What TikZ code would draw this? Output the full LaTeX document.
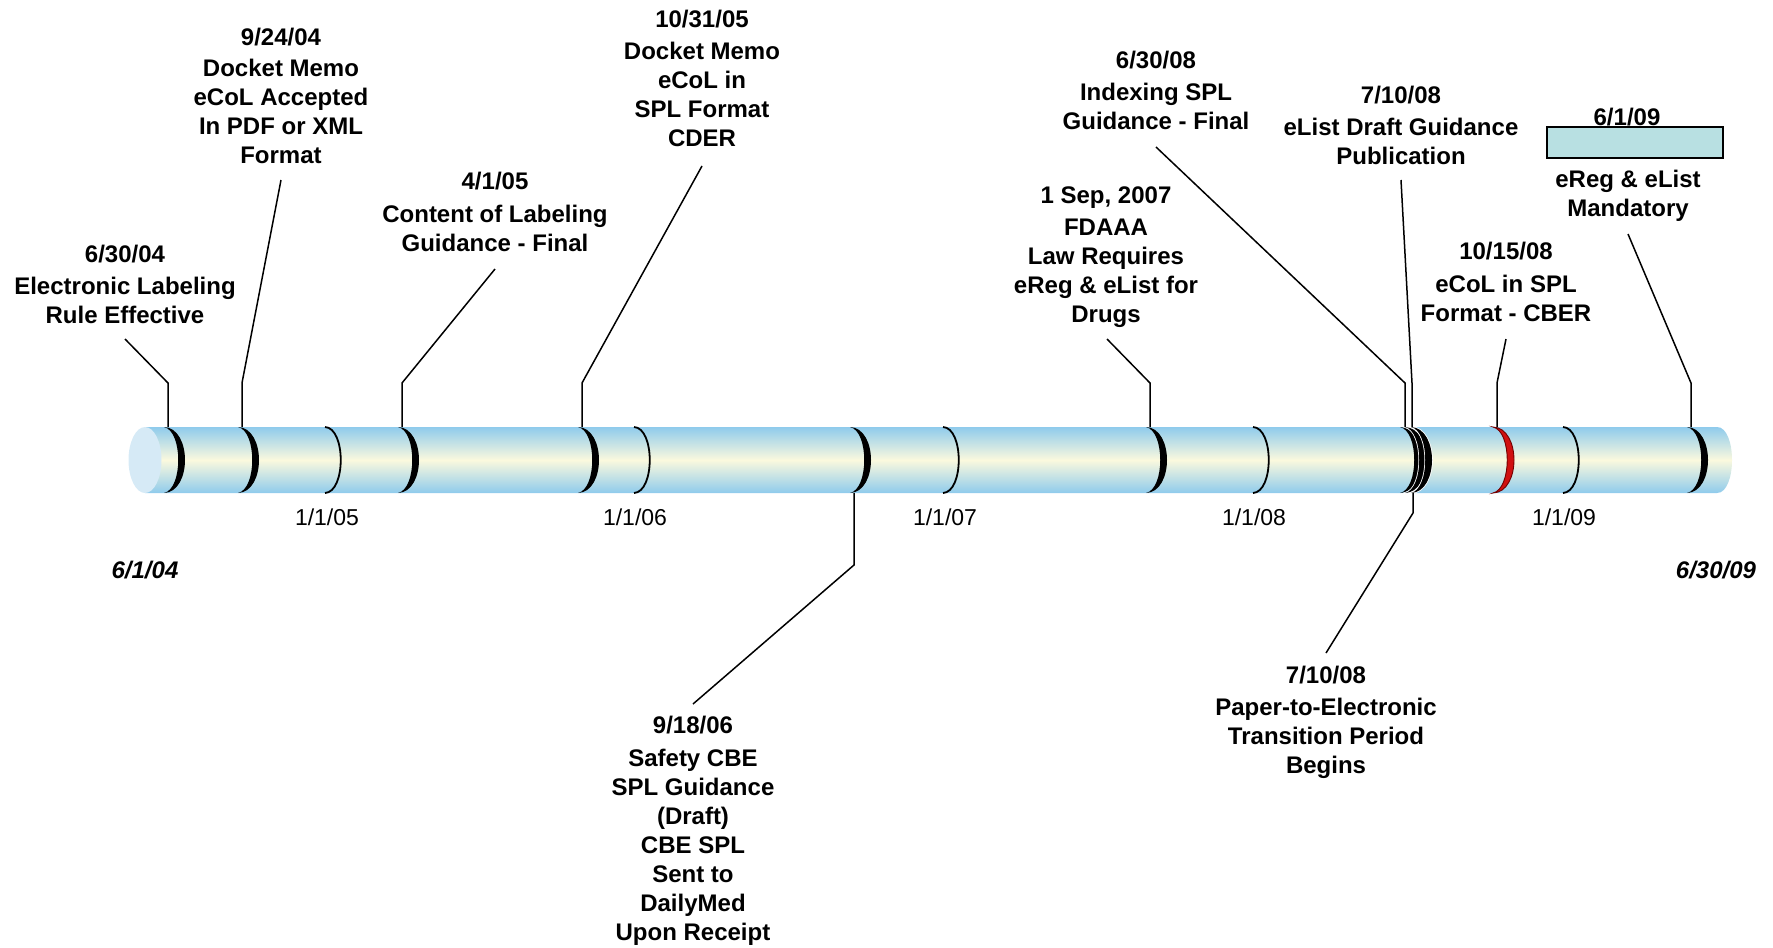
\documentclass[tikz,border=0pt]{standalone}
\usepackage{fontspec}
\setmainfont{Liberation Sans}
\definecolor{cylblue}{HTML}{8FCBEC}
\definecolor{cylcream}{HTML}{FBF9DE}
\definecolor{capblue}{HTML}{D6EAF6}
\definecolor{boxfill}{HTML}{B8E0E2}
\definecolor{mkred}{HTML}{D01010}
\tikzset{
  evt/.style={font=\fontsize{24}{29}\selectfont\bfseries, align=center, inner sep=0pt, anchor=north},
  yr/.style={font=\fontsize{23}{28}\selectfont, inner sep=0pt, anchor=base},
  endlbl/.style={font=\fontsize{24}{29}\selectfont\bfseries\itshape, inner sep=0pt, anchor=base},
  conn/.style={line width=1.5pt, black},
  thinmk/.style={draw=black, line width=1.8pt},
  thickmk/.style={fill=black},
  gapmk/.style={draw=white, line width=1.6pt},
  redmk/.style={fill=mkred, draw=black!55!red, line width=0.9pt},
  datebox/.style={draw=black, line width=2pt, fill=boxfill, minimum width=176pt, minimum height=31pt, inner sep=0pt},
}
\newcommand{\crescentmk}[2]{%
  \path[#2] (#1-4,427) .. controls (#1+24,428) and (#1+24,492) .. (#1-4,493)
     .. controls (#1+15,489) and (#1+15,431) .. (#1-4,427) -- cycle;}
\begin{document}
\begin{tikzpicture}[x=1pt,y=-1pt]
\useasboundingbox (0,0) rectangle (1773,948);

% cylinder
\shade[top color=cylblue, bottom color=cylblue, middle color=cylcream]
  (145,427) -- (1717,427) .. controls (1737,427) and (1737,493) .. (1717,493) -- (145,493) -- cycle;
\fill[capblue] (145,460) ellipse [x radius=16.5, y radius=33];

% year markers
\foreach \x in {325,634,943,1253,1563}
  \draw[thinmk] (\x,427) .. controls (\x+21,428) and (\x+21,492) .. (\x,493);

% event markers
\foreach \x in {168,242,402,582,854,1150,1691} {\crescentmk{\x}{thickmk}}
\crescentmk{1404}{thickmk}
\crescentmk{1409}{gapmk}
\crescentmk{1409}{thickmk}
\crescentmk{1415}{gapmk}
\crescentmk{1415}{thickmk}
\crescentmk{1497}{redmk}

% year labels
\node[yr] (y05) at (327,525) {1/1/05};
\node[yr] (y06) at (635,525) {1/1/06};
\node[yr] (y07) at (945,525) {1/1/07};
\node[yr] (y08) at (1254,525) {1/1/08};
\node[yr] (y09) at (1564,525) {1/1/09};

% end labels
\node[endlbl] (start) at (145,578) {6/1/04};
\node[endlbl] (end) at (1716,578) {6/30/09};

% event texts
\node[evt] (e1) at (125,245) {6/30/04\\[3pt]Electronic Labeling\\Rule Effective};
\node[evt] (e2) at (281,28) {9/24/04\\[2pt]Docket Memo\\eCoL Accepted\\In PDF or XML\\Format};
\node[evt] (e3) at (495,172) {4/1/05\\[4pt]Content of Labeling\\Guidance - Final};
\node[evt] (e4) at (702,10) {10/31/05\\[3pt]Docket Memo\\eCoL in\\SPL Format\\CDER};
\node[evt] (e5) at (693,716) {9/18/06\\[4pt]Safety CBE\\SPL Guidance\\(Draft)\\CBE SPL\\Sent to\\DailyMed\\Upon Receipt};
\node[evt] (e6) at (1106,187) {1 Sep, 2007\\[3pt]FDAAA\\Law Requires\\eReg \& eList for\\Drugs};
\node[evt] (e7) at (1156,51) {6/30/08\\[3pt]Indexing SPL\\Guidance - Final};
\node[evt] (e8) at (1401,86) {7/10/08\\[3pt]eList Draft Guidance\\Publication};
\node[evt] (e10) at (1506,242) {10/15/08\\[4pt]eCoL in SPL\\Format - CBER};
\node[evt] (e11) at (1326,666) {7/10/08\\[3pt]Paper-to-Electronic\\Transition Period\\Begins};
\node[datebox] (bx) at (1635,142.5) {};
\node[evt, anchor=base] (e9d) at (1627,125) {6/1/09};
\node[evt] (e9) at (1628,170) {eReg \& eList\\Mandatory};

% connector points
\coordinate (a1) at (125,339); \coordinate (k1) at (168,383); \coordinate (m1) at (168,427);
\coordinate (a2) at (281,180); \coordinate (k2) at (242,383); \coordinate (m2) at (242,427);
\coordinate (a3) at (495,269); \coordinate (k3) at (402,383); \coordinate (m3) at (402,427);
\coordinate (a4) at (702,166); \coordinate (k4) at (582,383); \coordinate (m4) at (582,427);
\coordinate (m5) at (854,493); \coordinate (k5) at (854,565); \coordinate (a5) at (693,704);
\coordinate (a6) at (1107,339); \coordinate (k6) at (1150,383); \coordinate (m6) at (1150,427);
\coordinate (a7) at (1156,147); \coordinate (k7) at (1405,383); \coordinate (m7) at (1405,427);
\coordinate (a8) at (1401,180); \coordinate (k8) at (1412,383); \coordinate (m8) at (1412,427);
\coordinate (m11) at (1413,493); \coordinate (k11) at (1413,513); \coordinate (a11) at (1326,653);
\coordinate (a10) at (1506,339); \coordinate (k10) at (1497,383); \coordinate (m10) at (1497,427);
\coordinate (a9) at (1628,234); \coordinate (k9) at (1691,383); \coordinate (m9) at (1691,427);

\draw[conn] (a1) -- (k1) -- (m1);
\draw[conn] (a2) -- (k2) -- (m2);
\draw[conn] (a3) -- (k3) -- (m3);
\draw[conn] (a4) -- (k4) -- (m4);
\draw[conn] (m5) -- (k5) -- (a5);
\draw[conn] (a6) -- (k6) -- (m6);
\draw[conn] (a7) -- (k7) -- (m7);
\draw[conn] (a8) -- (k8) -- (m8);
\draw[conn] (m11) -- (k11) -- (a11);
\draw[conn] (a10) -- (k10) -- (m10);
\draw[conn] (a9) -- (k9) -- (m9);
\end{tikzpicture}
\end{document}
